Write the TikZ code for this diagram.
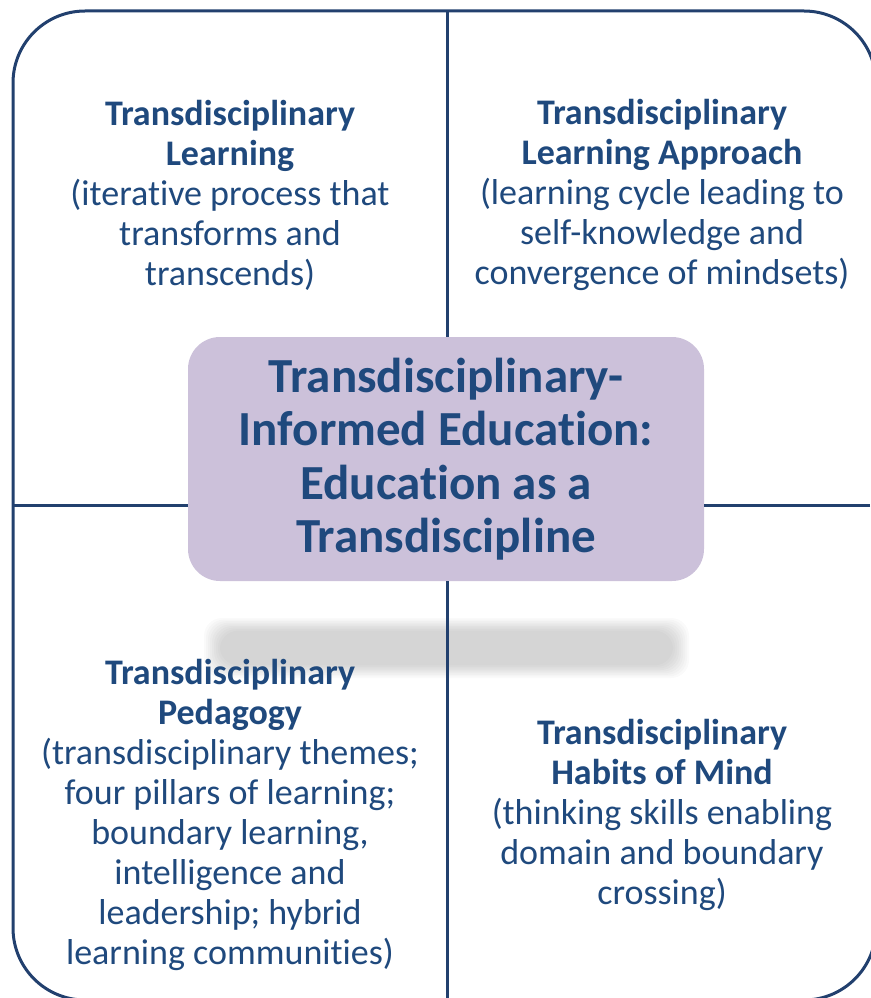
\documentclass[tikz,border=0pt]{standalone}
\usepackage{fontspec}
\setmainfont{Carlito}[Ligatures={NoCommon}]

\definecolor{tdblue}{HTML}{1F497D}
\definecolor{tdline}{HTML}{22406E}
\definecolor{tdlilac}{HTML}{CCC1DA}

\tikzset{
  quad/.style={align=center, text=tdblue, font=\fontsize{36}{40}\selectfont},
  hubbox/.style={fill=tdlilac, rounded corners=32pt, minimum width=516pt,
    minimum height=244pt, align=center, text=tdblue,
    font=\bfseries\fontsize{49}{53.5}\selectfont},
  rule/.style={draw=tdline, line width=3pt}
}

\begin{document}
\begin{tikzpicture}[x=1pt,y=-1pt]

\useasboundingbox (0,0) rectangle (870,998);

\def\frame{(13,11) rectangle (876,1000)}

% blurred shadow under the hub
\foreach \i in {0,...,8}
  \fill[black, opacity=0.021, rounded corners=18pt]
    (204+\i*2,618+\i*1.6) rectangle (689-\i*2,678-\i*1.6);

\draw[rule, rounded corners=72pt] \frame;

\coordinate (top) at (447,11);
\coordinate (bot) at (447,998);
\coordinate (lft) at (13,505);
\coordinate (rgt) at (870,505);

\node[hubbox] (hub) at (446,459) {Transdisciplinary-\\Informed Education:\\Education as a\\Transdiscipline};

\draw[rule] (top) -- (top |- hub.north);
\draw[rule] (bot) -- (bot |- hub.south);
\draw[rule] (lft) -- (lft -| hub.west);
\draw[rule] (rgt) -- (rgt -| hub.east);

\node[quad] (tl) at (230,195) {{\bfseries Transdisciplinary}\\{\bfseries Learning}\\(iterative process that\\transforms and\\transcends)};
\node[quad] (tr) at (662,195) {{\bfseries Transdisciplinary}\\{\bfseries Learning Approach}\\(learning cycle leading to\\self-knowledge and\\convergence of mindsets)};
\node[quad] (bl) at (230,815) {{\bfseries Transdisciplinary}\\{\bfseries Pedagogy}\\(transdisciplinary themes;\\four pillars of learning;\\boundary learning,\\intelligence and\\leadership; hybrid\\learning communities)};
\node[quad] (br) at (662,815) {{\bfseries Transdisciplinary}\\{\bfseries Habits of Mind}\\(thinking skills enabling\\domain and boundary\\crossing)};

\end{tikzpicture}
\end{document}
